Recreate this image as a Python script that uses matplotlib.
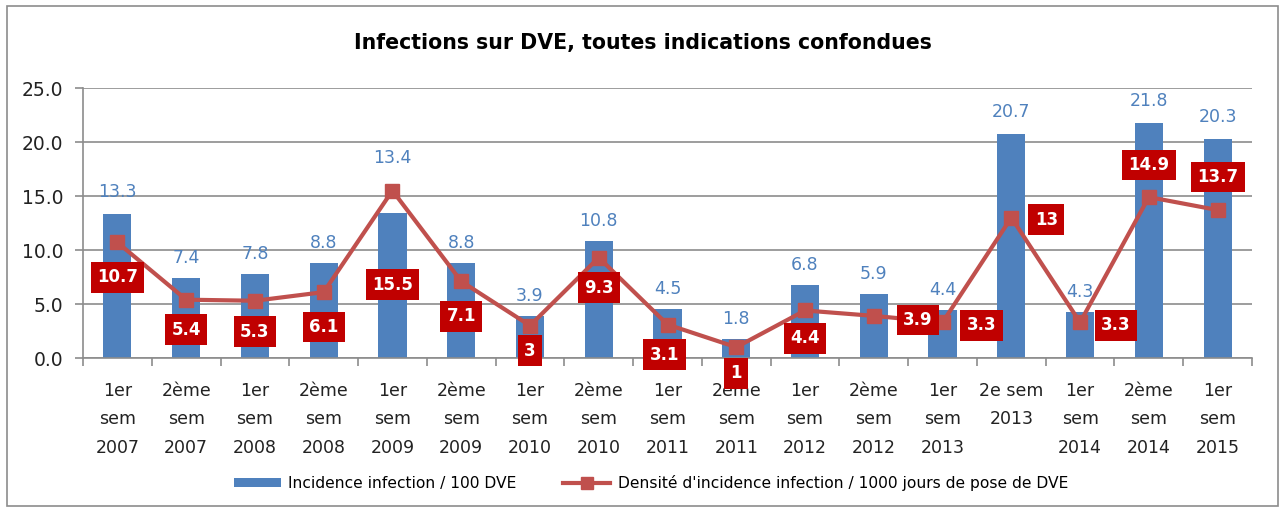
import matplotlib
matplotlib.use("Agg")
import matplotlib.pyplot as plt
from matplotlib.patches import Rectangle
from matplotlib.lines import Line2D
from matplotlib.patches import Patch
import numpy as np

plt.rcParams['font.family'] = ['DejaVu Sans']

categories = ["1er\nsem\n2007", "2ème\nsem\n2007", "1er\nsem\n2008", "2ème\nsem\n2008",
              "1er\nsem\n2009", "2ème\nsem\n2009", "1er\nsem\n2010", "2ème\nsem\n2010",
              "1er\nsem\n2011", "2ème\nsem\n2011", "1er\nsem\n2012", "2ème\nsem\n2012",
              "1er\nsem\n2013", "2e sem\n2013\n", "1er\nsem\n2014", "2ème\nsem\n2014",
              "1er\nsem\n2015"]
incidence = [13.3, 7.4, 7.8, 8.8, 13.4, 8.8, 3.9, 10.8, 4.5, 1.8, 6.8, 5.9, 4.4, 20.7, 4.3, 21.8, 20.3]
densite = [10.7, 5.4, 5.3, 6.1, 15.5, 7.1, 3, 9.3, 3.1, 1, 4.4, 3.9, 3.3, 13, 3.3, 14.9, 13.7]
densite_labels = ["10.7", "5.4", "5.3", "6.1", "15.5", "7.1", "3", "9.3", "3.1", "1", "4.4",
                  "3.9", "3.3", "13", "3.3", "14.9", "13.7"]
label_offsets = [(0, -35), (0, -30), (0, -31), (0, -35), (0, -94), (0, -35), (0, -25), (0, -30),
                 (-3, -30), (0, -26), (0, -28), (44, -4), (39, -3), (35, -2), (36, -3), (0, 32), (0, 33)]
bar_label_offsets = [22, 20, 20, 20, 55, 20, 20, 20, 20, 20, 20, 20, 20, 22, 20, 22, 22]

blue = '#4F81BD'
red_line = '#C0504D'
red_box = '#C00000'

fig = plt.figure(figsize=(12.85, 5.11), dpi=100)
fig.patches.append(Rectangle((7/1285, 5/511), 1271/1285, 500/511, transform=fig.transFigure,
                             fill=False, edgecolor='#8C8C8C', linewidth=1.2))
ax = fig.add_axes([83/1285, 1-358/511, (1252-83)/1285, (358-88)/511])

x = np.arange(len(categories))
ax.bar(x, incidence, width=0.41, color=blue, zorder=2)
for xi, v, off in zip(x, incidence, bar_label_offsets):
    ax.annotate(f"{v:.1f}", (xi, v), xytext=(0, off), textcoords='offset pixels',
                ha='center', va='center', color=blue, fontsize=12.5, zorder=5)

ax.plot(x, densite, color=red_line, linewidth=3, marker='s', markersize=10, zorder=3)
for xi, v, lab, off in zip(x, densite, densite_labels, label_offsets):
    ax.annotate(lab, (xi, v), xytext=off, textcoords='offset pixels', ha='center', va='center',
                color='white', fontsize=12, fontweight='bold', zorder=6,
                bbox=dict(boxstyle='square,pad=0.38', facecolor=red_box, edgecolor='none'))

ax.set_xlim(-0.5, len(categories) - 0.5)
ax.set_ylim(0, 25)
yt = np.arange(0, 25.1, 5)
ax.set_yticks(yt)
ax.set_yticklabels([f"{t:.1f}" for t in yt], fontsize=13.5, color='#222222')
ax.yaxis.grid(True, color='#8C8C8C', linewidth=1.2, zorder=0)
ax.set_axisbelow(True)

ax.set_xticks(x)
ax.set_xticklabels(categories, fontsize=12.5, linespacing=1.75, color='#222222')
ax.tick_params(axis='x', length=0, pad=17)
ax.set_xticks(np.arange(-0.5, len(categories), 1), minor=True)
ax.tick_params(axis='x', which='minor', length=6, color='#8C8C8C', width=1.2)
ax.tick_params(axis='y', length=6, color='#8C8C8C', width=1.2, pad=8)

for s in ['top', 'right']:
    ax.spines[s].set_visible(False)
for s in ['left', 'bottom']:
    ax.spines[s].set_color('#8C8C8C')
    ax.spines[s].set_linewidth(1.2)

fig.text(643/1285, 1-43/511, "Infections sur DVE, toutes indications confondues",
         ha='center', va='center', fontsize=14.8, fontweight='bold', color='black')

handles = [Patch(facecolor=blue, edgecolor='none'),
           Line2D([], [], color=red_line, linewidth=3, marker='s', markersize=8)]
labels = ["Incidence infection / 100 DVE",
          "Densité d'incidence infection / 1000 jours de pose de DVE"]
fig.legend(handles, labels, loc='center', bbox_to_anchor=(651/1285, 1-483/511), ncol=2,
           frameon=False, fontsize=11.2, handlelength=3.0, handleheight=0.6,
           columnspacing=3.0, handletextpad=0.5)

fig.savefig("out.png", dpi=100)
